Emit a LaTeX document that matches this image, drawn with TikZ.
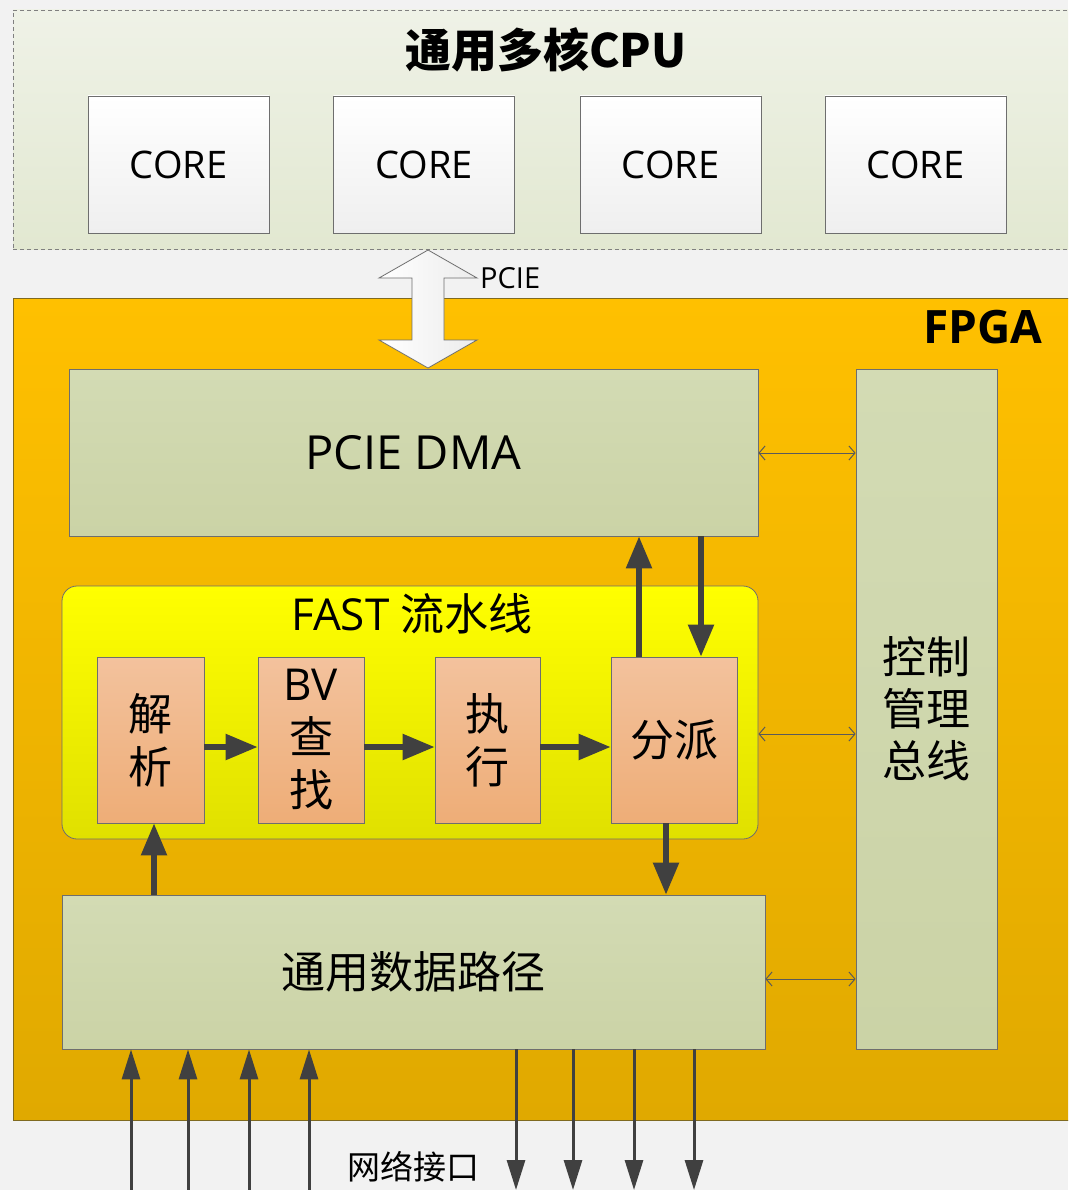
\documentclass[tikz,border=0pt]{standalone}
\usepackage{fontspec}
\setmainfont{Open Sans}
\newfontfamily\cjk{Noto Sans CJK SC}
\usetikzlibrary{arrows.meta}
\definecolor{bgc}{HTML}{F2F2F2}
\definecolor{cputop}{HTML}{EFF2E7}
\definecolor{cpubot}{HTML}{E2E8D1}
\definecolor{coreb}{HTML}{EFEFEF}
\definecolor{boxline}{HTML}{6E6E6E}
\definecolor{fpgatop}{HTML}{FFC000}
\definecolor{fpgabot}{HTML}{E0A900}
\definecolor{fpgaline}{HTML}{7F6A20}
\definecolor{greentop}{HTML}{D3DBB4}
\definecolor{greenbot}{HTML}{CBD3A6}
\definecolor{yeltop}{HTML}{FFFF00}
\definecolor{yelbot}{HTML}{E0E000}
\definecolor{ortop}{HTML}{F3C29D}
\definecolor{orbot}{HTML}{EEAD77}
\definecolor{arr}{HTML}{404040}
\definecolor{thinarr}{HTML}{5A5A5A}
\tikzset{
  corebox/.style={draw=boxline, line width=0.8pt, top color=white, bottom color=coreb,
    minimum width=181pt, minimum height=137pt, inner sep=0pt, font=\fontsize{38}{44}\selectfont},
  greenbox/.style={draw=boxline, line width=0.8pt, top color=greentop, bottom color=greenbot, inner sep=0pt},
  stagebox/.style={draw=boxline, line width=0.8pt, top color=ortop, bottom color=orbot,
    inner sep=0pt, minimum height=166pt, align=center, font=\fontsize{44}{53}\selectfont\cjk},
  bigarrow/.style={draw=arr, line width=5.5pt, -{Triangle[length=32pt,width=25pt]}},
  netarrow/.style={draw=arr, line width=3pt, -{Triangle[length=30pt,width=18pt]}},
  busarrow/.style={draw=thinarr, line width=1pt, {Straight Barb[length=6pt,width=14pt]}-{Straight Barb[length=6pt,width=14pt]}},
}
\begin{document}
\begin{tikzpicture}[x=1pt,y=-1pt]
\useasboundingbox (0,0) rectangle (1068,1190);
\fill[bgc] (0,0) rectangle (1068,1190);
\begin{scope}
\clip (0,0) rectangle (1068,1190);
% CPU
\node[draw=gray, dash pattern=on 4pt off 3pt, line width=0.8pt, top color=cputop, bottom color=cpubot,
  minimum width=1062pt, minimum height=239pt, inner sep=0pt] (cpu) at (544,129.5) {};
\node[font=\fontsize{46}{52}\selectfont\cjk\bfseries] (cputitle) at (546,50) {通用多核CPU};
\node[corebox] (core1) at (178.5,164.5) {CORE};
\node[corebox] (core2) at (424,164.5) {CORE};
\node[corebox] (core3) at (670.5,164.5) {CORE};
\node[corebox] (core4) at (915.5,164.5) {CORE};
% FPGA
\node[draw=fpgaline, line width=0.8pt, top color=fpgatop, bottom color=fpgabot,
  minimum width=1062pt, minimum height=822pt, inner sep=0pt] (fpga) at (544,709) {};
\end{scope}
\node[font=\fontsize{46}{52}\selectfont\bfseries] (fpgalabel) at (983,327) {FPGA};
% PCIE double arrow
\coordinate (pcietop) at (428,250);
\draw[draw=boxline, line width=0.8pt, left color=white, right color=gray!15]
  (pcietop) -- ++(49,28) -- ++(-33,0) -- ++(0,62) -- ++(33,0) -- ++(-49,28) -- ++(-49,-28)
  -- ++(33,0) -- ++(0,-62) -- ++(-33,0) -- cycle;
\node[anchor=west, font=\fontsize{29}{34}\selectfont, inner sep=0pt] (pcielabel) at (480,278) {PCIE};
% blocks
\node[greenbox, minimum width=689pt, minimum height=167pt, font=\fontsize{47}{54}\selectfont] (dma) at (413.5,452.5) {PCIE DMA};
\node[greenbox, minimum width=141pt, minimum height=680pt, align=center, font=\fontsize{44}{52}\selectfont\cjk] (bus) at (926.5,709) {控制\\管理\\总线};
\node[draw=boxline, line width=0.8pt, top color=yeltop, bottom color=yelbot, rounded corners=15pt,
  minimum width=696pt, minimum height=253pt, inner sep=0pt] (fast) at (410,712.5) {};
\node[font=\fontsize{44}{50}\selectfont] (fasttitle) at (412,614) {FAST {\cjk\fontsize{44}{50}\selectfont 流水线}};
\node[stagebox, minimum width=107pt] (parse) at (150.5,740) {解\\析};
\node[stagebox, minimum width=106pt] (bv) at (311,740) {{\rmfamily BV}\\查\\找};
\node[stagebox, minimum width=105pt] (exec) at (487.5,740) {执\\行};
\node[stagebox, minimum width=126pt] (disp) at (674,740) {分派};
\node[greenbox, minimum width=703pt, minimum height=154pt, font=\fontsize{44}{52}\selectfont\cjk] (dp) at (413.5,972) {通用数据路径};
% pipeline arrows
\coordinate (row) at (0,747);
\draw[bigarrow] (parse.east |- row) -- (bv.west |- row);
\draw[bigarrow] (bv.east |- row) -- (exec.west |- row);
\draw[bigarrow] (exec.east |- row) -- (disp.west |- row);
\draw[bigarrow] (disp.north -| 639,0) -- (dma.south -| 639,0);
\draw[bigarrow] (dma.south -| 701,0) -- (disp.north -| 701,0);
\draw[bigarrow] (disp.south -| 666,0) -- (dp.north -| 666,0);
\draw[bigarrow] (dp.north -| 154,0) -- (parse.south -| 154,0);
% bus arrows
\draw[busarrow] (dma.east |- 0,453) -- (bus.west |- 0,453);
\draw[busarrow] (fast.east |- 0,734) -- (bus.west |- 0,734);
\draw[busarrow] (dp.east |- 0,979) -- (bus.west |- 0,979);
% network arrows
\foreach \x [count=\i] in {131,188,249,309} {
  \coordinate (in\i) at (\x,1190);
  \draw[netarrow] (in\i) -- (dp.south -| in\i);
}
\foreach \x [count=\i] in {516,573,634,694} {
  \coordinate (out\i) at (\x,1190);
  \draw[netarrow] (dp.south -| out\i) -- (out\i);
}
\node[font=\fontsize{33}{38}\selectfont\cjk] (netlabel) at (413,1167) {网络接口};
\end{tikzpicture}
\end{document}
